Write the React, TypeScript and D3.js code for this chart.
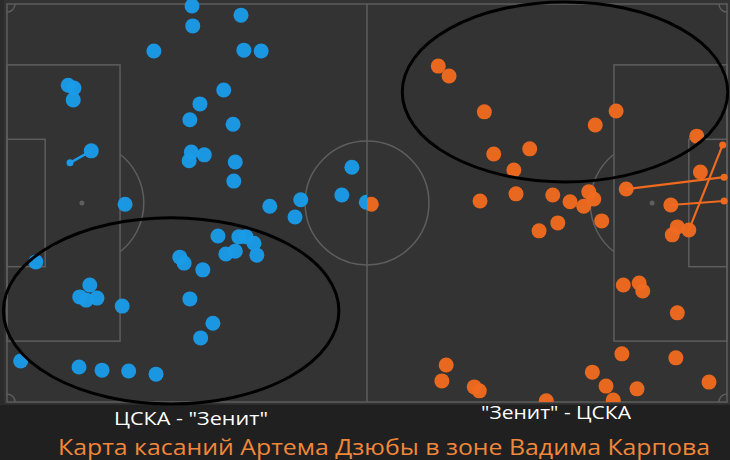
import React from "react";
import * as d3 from "d3";

// Pitch coordinates: x 0..100 (left goal line -> right goal line), y 0..100 (top touchline -> bottom)
const blueX = [25.7, 32.5, 25.8, 20.4, 32.9, 35.3, 8.5, 9.3, 9.2, 30.1, 26.8, 25.4, 31.4, 11.7, 25.6, 25.3, 27.4, 31.7, 31.5, 47.9, 16.4, 36.5, 40.8, 46.5, 49.9, 40.0, 29.3, 32.2, 33.2, 34.3, 31.7, 30.4, 34.7, 24.0, 24.6, 27.2, 4.0, 11.5, 10.1, 11.0, 12.5, 16.0, 25.4, 28.6, 26.9, 1.9, 10.0, 13.2, 16.9, 20.7];
const blueY = [0.5, 2.8, 5.5, 11.8, 11.6, 11.8, 20.4, 21.1, 24.1, 21.6, 25.1, 29.1, 30.2, 36.9, 37.2, 39.4, 37.9, 39.7, 44.5, 41.0, 50.3, 50.8, 49.2, 48.0, 49.8, 53.5, 58.3, 58.5, 58.5, 60.1, 62.1, 62.8, 63.1, 63.6, 65.1, 66.8, 64.8, 70.6, 73.6, 74.4, 73.9, 75.9, 74.1, 80.2, 83.9, 89.7, 91.2, 92.0, 92.2, 93.0];

const orangeX = [59.9, 61.4, 66.3, 84.6, 81.7, 95.8, 67.6, 72.6, 70.4, 96.3, 86.0, 65.7, 70.7, 75.8, 78.2, 80.8, 80.1, 81.5, 92.2, 82.6, 76.5, 73.9, 93.1, 92.4, 94.7, 50.6, 85.6, 87.8, 88.3, 93.1, 85.4, 92.9, 61.0, 60.4, 64.9, 65.6, 81.3, 83.2, 87.5, 97.5, 74.9, 84.2];
const orangeY = [15.6, 18.1, 27.1, 26.9, 30.4, 33.2, 37.7, 36.4, 41.7, 42.2, 46.5, 49.5, 47.7, 48.0, 49.7, 47.2, 50.8, 49.0, 50.5, 54.5, 55.0, 57.0, 56.0, 58.0, 56.8, 50.3, 70.6, 70.1, 72.1, 77.6, 87.9, 88.9, 90.7, 94.7, 96.2, 97.2, 92.5, 96.0, 96.7, 95.0, 99.7, 99.5];

// Carries / passes: [x1, y1, x2, y2]
const blueLines = [[11.7, 36.9, 8.75, 39.9]];
const orangeLines = [
  [86.0, 46.5, 99.6, 43.5],
  [92.2, 50.5, 99.6, 49.5],
  [94.7, 56.8, 99.4, 35.4],
];

// Highlight zones: [cx, cy, rx, ry]
const zones = [
  [22.8, 77.1, 23.3, 23.4],
  [77.5, 22.1, 22.6, 22.6],
];

const labelLeft = "ЦСКА - \"Зенит\"";
const labelRight = "\"Зенит\" - ЦСКА";
const title = "Карта касаний Артема Дзюбы в зоне Вадима Карпова";

const W = 730;
const H = 460;
const BLUE = "#1b9be8";
const ORANGE = "#ef6a1f";
const LINE = "#5e5e5e";

export default function App() {
  const x = d3.scaleLinear().domain([0, 100]).range([7, 727]);
  const y = d3.scaleLinear().domain([0, 100]).range([4, 402]);
  const rCircle = x(8.6) - x(0);
  const cy = y(50);

  const boxDepth = 15.7, boxTop = 15.3, boxBot = 84.7;
  const sixDepth = 5.3, sixTop = 34, sixBot = 66;
  const spot = 10.4;

  // penalty arcs (outside box only)
  const arcAngle = Math.acos((x(boxDepth) - x(spot)) / rCircle);
  const leftArc = d3.arc()({ innerRadius: rCircle, outerRadius: rCircle, startAngle: Math.PI / 2 - arcAngle, endAngle: Math.PI / 2 + arcAngle }) as string;
  const rightArc = d3.arc()({ innerRadius: rCircle, outerRadius: rCircle, startAngle: -Math.PI / 2 - arcAngle, endAngle: -Math.PI / 2 + arcAngle }) as string;
  const cornerR = 8;
  const corner = (sa: number, ea: number) =>
    d3.arc()({ innerRadius: cornerR, outerRadius: cornerR, startAngle: sa, endAngle: ea }) as string;

  const stroke = { stroke: LINE, strokeWidth: 1.5, fill: "none" };
  const font = "'Open Sans', 'Noto Sans', sans-serif";

  return (
    <svg width={W} height={H} style={{ position: "absolute", left: 0, top: 0, background: "#202020" }}>
      <defs>
        <clipPath id="leftHalf">
          <rect x={0} y={0} width={x(50)} height={y(100)} />
        </clipPath>
        <clipPath id="rightHalf">
          <rect x={x(50)} y={0} width={W - x(50)} height={y(100)} />
        </clipPath>
      </defs>
      <rect x={0} y={0} width={W} height={y(100) + 3} fill="#2b2b2b" />
      <rect x={x(0) - 3} y={0} width={x(100) - x(0) + 6} height={y(100) + 2} fill="#333333" />
      {/* pitch lines */}
      <g {...stroke}>
        <rect x={x(0)} y={y(0)} width={x(100) - x(0)} height={y(100) - y(0)} />
        <line x1={x(50)} x2={x(50)} y1={y(0)} y2={y(100)} />
        <circle cx={x(50)} cy={cy} r={rCircle} />
        <rect x={x(0)} y={y(boxTop)} width={x(boxDepth) - x(0)} height={y(boxBot) - y(boxTop)} />
        <rect x={x(0)} y={y(sixTop)} width={x(sixDepth) - x(0)} height={y(sixBot) - y(sixTop)} />
        <rect x={x(100 - boxDepth)} y={y(boxTop)} width={x(100) - x(100 - boxDepth)} height={y(boxBot) - y(boxTop)} />
        <rect x={x(100 - sixDepth)} y={y(sixTop)} width={x(100) - x(100 - sixDepth)} height={y(sixBot) - y(sixTop)} />
        <path d={leftArc} transform={`translate(${x(spot)},${cy})`} />
        <path d={rightArc} transform={`translate(${x(100 - spot)},${cy})`} />
        <path d={corner(Math.PI / 2, Math.PI)} transform={`translate(${x(0)},${y(0)})`} />
        <path d={corner(0, Math.PI / 2)} transform={`translate(${x(0)},${y(100)})`} />
        <path d={corner(Math.PI, Math.PI * 1.5)} transform={`translate(${x(100)},${y(0)})`} />
        <path d={corner(-Math.PI / 2, 0)} transform={`translate(${x(100)},${y(100)})`} />
      </g>
      <circle cx={x(spot)} cy={cy} r={2.5} fill={LINE} />
      <circle cx={x(100 - spot)} cy={cy} r={2.5} fill={LINE} />

      {/* blue half */}
      <g clipPath="url(#leftHalf)">
        {blueLines.map((l, i) => (
          <g key={i}>
            <line x1={x(l[0])} y1={y(l[1])} x2={x(l[2])} y2={y(l[3])} stroke={BLUE} strokeWidth={2.5} />
            <circle cx={x(l[2])} cy={y(l[3])} r={3.5} fill={BLUE} />
          </g>
        ))}
        {blueX.map((v, i) => (
          <circle key={i} cx={x(v)} cy={y(blueY[i])} r={7.5} fill={BLUE} opacity={0.97} />
        ))}
      </g>

      {/* orange half */}
      <g clipPath="url(#rightHalf)">
        {orangeLines.map((l, i) => (
          <g key={i}>
            <line x1={x(l[0])} y1={y(l[1])} x2={x(l[2])} y2={y(l[3])} stroke={ORANGE} strokeWidth={2.2} />
            <circle cx={x(l[2])} cy={y(l[3])} r={3.5} fill={ORANGE} />
          </g>
        ))}
        {orangeX.map((v, i) => (
          <circle key={i} cx={x(v)} cy={y(orangeY[i])} r={7.5} fill={ORANGE} opacity={0.97} />
        ))}
      </g>

      {/* zones */}
      {zones.map((z, i) => (
        <ellipse key={i} cx={x(z[0])} cy={y(z[1])} rx={x(z[2]) - x(0)} ry={y(z[3]) - y(0)} fill="none" stroke="#000" strokeWidth={3} />
      ))}

      <text x={191} y={425} fill="#ffffff" fontFamily={font} fontSize={18} textAnchor="middle" textLength={154} lengthAdjust="spacingAndGlyphs">{labelLeft}</text>
      <text x={556} y={419} fill="#ffffff" fontFamily={font} fontSize={18} textAnchor="middle" textLength={150} lengthAdjust="spacingAndGlyphs">{labelRight}</text>
      <text x={384} y={455} fill="#f0873a" fontFamily={font} fontSize={21} textAnchor="middle" textLength={652} lengthAdjust="spacingAndGlyphs">{title}</text>
    </svg>
  );
}
